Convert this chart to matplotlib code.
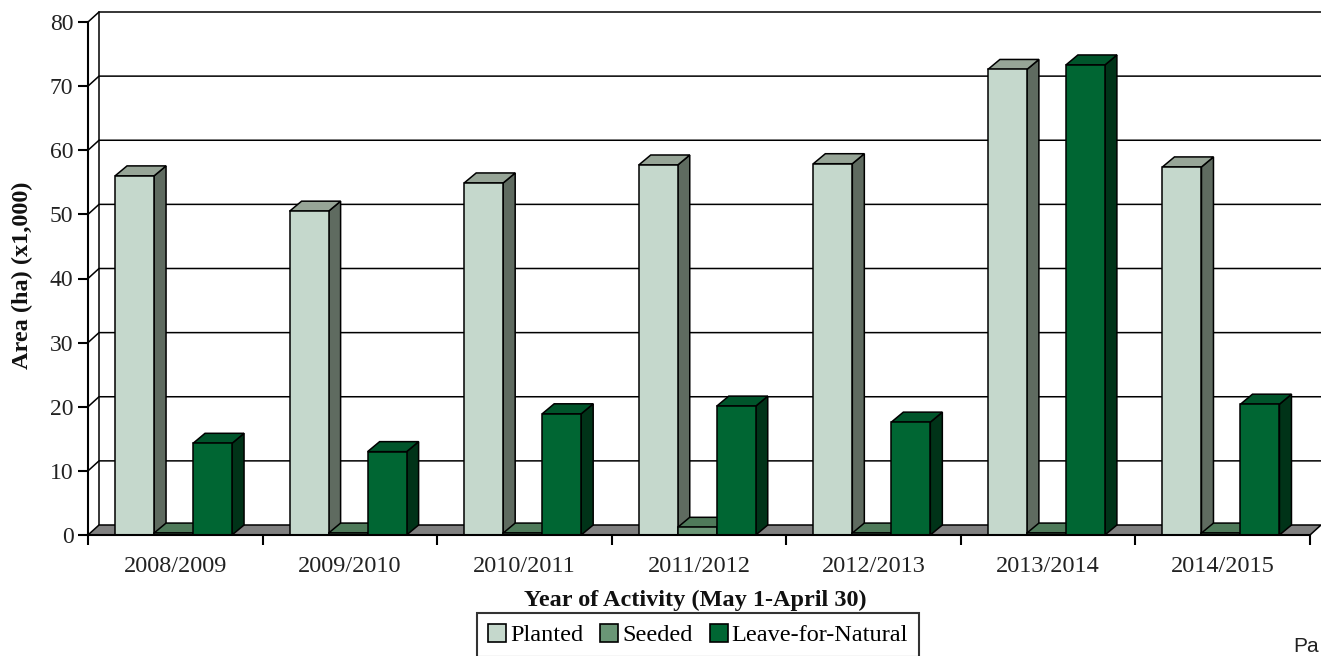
# libraries
import matplotlib
matplotlib.use('Agg')
import matplotlib.pyplot as plt
from matplotlib.patches import Polygon, Rectangle, Patch

plt.rcParams['font.family'] = ['Liberation Serif', 'DejaVu Serif']

# data (area in ha x1,000)
years = ['2008/2009', '2009/2010', '2010/2011', '2011/2012', '2012/2013', '2013/2014', '2014/2015']
planted = [56.0, 50.5, 54.9, 57.7, 57.9, 72.6, 57.4]
seeded = [0.3, 0.3, 0.3, 1.2, 0.3, 0.3, 0.3]
natural = [14.3, 13.0, 18.9, 20.1, 17.6, 73.3, 20.4]
series_names = ['Planted', 'Seeded', 'Leave-for-Natural']

# face colours: front, side, top
colors = [
    ('#c5d8cc', '#5f6b60', '#97a597'),
    ('#6a9676', '#34503b', '#4f7a5a'),
    ('#006633', '#003318', '#00552b'),
]

W, H = 1321, 656
fig = plt.figure(figsize=(W / 100, H / 100), dpi=100)

# front plane of the plot (pixels)
x_left, x_right, y_bot, y_top = 88, 1310, 535, 22
ax = fig.add_axes([x_left / W, 1 - y_bot / H, (x_right - x_left) / W, (y_bot - y_top) / H])
ax.set_xlim(0, len(years))
ax.set_ylim(0, 80)

px_x = len(years) / (x_right - x_left)   # data units per pixel
px_y = 80 / (y_bot - y_top)

# 3D depth offsets
wall_dx, wall_dy = 11 * px_x, 10 * px_y
bar_dx, bar_dy = 12 * px_x, 10 * px_y
lw = 1.1

# walls and gridlines
ax.plot([wall_dx, wall_dx], [wall_dy, 80 + wall_dy], color='black', lw=lw, clip_on=False, zorder=1)
for v in range(10, 90, 10):
    ax.plot([0, wall_dx, len(years) + wall_dx + 1], [v, v + wall_dy, v + wall_dy],
            color='black', lw=lw, clip_on=False, zorder=1)

# floor
floor = Polygon([(0, 0), (len(years), 0), (len(years) + wall_dx, wall_dy), (wall_dx, wall_dy)],
                closed=True, facecolor='#808080', edgecolor='black', lw=lw, clip_on=False, zorder=2)
ax.add_patch(floor)

# bars
bar_w = 39 * px_x
start = 0.5 - 1.5 * bar_w - 0.01
for i in range(len(years)):
    for j, vals in enumerate([planted, seeded, natural]):
        h = vals[i]
        x0 = i + start + j * bar_w
        front, side, top = colors[j]
        z = 3 + i * 3 + j
        ax.add_patch(Polygon([(x0 + bar_w, 0), (x0 + bar_w + bar_dx, bar_dy),
                              (x0 + bar_w + bar_dx, h + bar_dy), (x0 + bar_w, h)],
                             closed=True, facecolor=side, edgecolor='black', lw=lw, clip_on=False, zorder=z))
        ax.add_patch(Polygon([(x0, h), (x0 + bar_w, h), (x0 + bar_w + bar_dx, h + bar_dy), (x0 + bar_dx, h + bar_dy)],
                             closed=True, facecolor=top, edgecolor='black', lw=lw, clip_on=False, zorder=z))
        ax.add_patch(Rectangle((x0, 0), bar_w, h, facecolor=front, edgecolor='black', lw=lw,
                               clip_on=False, zorder=z))

# axes styling
for s in ['top', 'right']:
    ax.spines[s].set_visible(False)
for s in ['left', 'bottom']:
    ax.spines[s].set_linewidth(1.5)
    ax.spines[s].set_zorder(40)
ax.set_yticks(range(0, 90, 10))
ax.tick_params(axis='y', length=7, width=1.5, pad=3.5, labelsize=17, labelcolor='#222222')
ax.set_xticks(range(len(years) + 1))
ax.set_xticklabels([])
ax.tick_params(axis='x', which='major', length=7, width=1.5)
ax.set_xticks([i + 0.5 for i in range(len(years))], minor=True)
ax.set_xticklabels(years, minor=True)
ax.tick_params(axis='x', which='minor', length=0, pad=15, labelsize=17.5, labelcolor='#222222')

# labels
fig.text(695 / W, 1 - 600 / H, 'Year of Activity (May 1-April 30)', ha='center', va='center',
         fontsize=17.5, fontweight='bold', color='#111111')
fig.text(22 / W, 1 - 275 / H, 'Area (ha) (x1,000)', ha='center', va='center', rotation=90,
         fontsize=17.5, fontweight='bold', color='#111111')

# legend
handles = [Patch(facecolor=c[0], edgecolor='black', lw=1.2) for c in colors]
leg = fig.legend(handles, series_names, loc='upper center', bbox_to_anchor=(698 / W, 1 - 613 / H),
                 ncol=3, fontsize=17.5, frameon=True, fancybox=False, handlelength=0.75, handleheight=0.75,
                 handletextpad=0.15, columnspacing=0.7, borderpad=0.45, borderaxespad=0)
leg.get_frame().set_edgecolor('black')
leg.get_frame().set_linewidth(1.5)

# text at the page corner
fig.text(1293 / W, 0.0, 'Pa', ha='left', va='bottom', fontsize=15, family='Liberation Sans', color='#222222')

fig.savefig('out.png', dpi=100)
